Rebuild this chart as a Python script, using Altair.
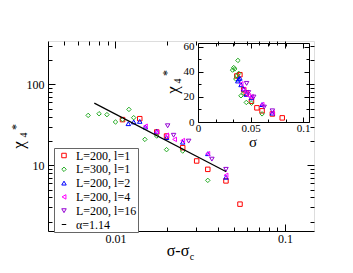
import altair as alt
import pandas as pd

# ---------------- data ----------------
series_names = ["L=200, l=1", "L=300, l=1", "L=200, l=2", "L=200, l=4", "L=200, l=16", "α=1.14"]
series_colors = ["#ff0000", "#22aa22", "#0000ff", "#ff00ff", "#9400d3", "#000000"]
series_shapes = ["square", "diamond", "triangle-up", "triangle-left", "triangle-down", "stroke"]
series_sizes = [20, 20, 20, 20, 20, 110]

# main panel: sigma - sigma_c  vs  chi_4*
red_x = [0.0110, 0.0139, 0.0175, 0.0200, 0.0249, 0.0301, 0.0350, 0.0448, 0.0542]
red_y = [36.7, 37.7, 25.8, 23.0, 16.5, 11.3, 8.9, 6.4, 3.3]
green_x = [0.0069, 0.0080, 0.0089, 0.0100, 0.0110, 0.0120, 0.0128, 0.0149, 0.0175, 0.0200, 0.0249, 0.0350]
green_y = [41.4, 43.4, 42.3, 34.3, 36.7, 49.1, 38.8, 20.9, 23.0, 15.6, 15.0, 6.5]
blue_x = [0.0119, 0.0128, 0.0139, 0.0150, 0.0175, 0.0200, 0.0249, 0.0350, 0.0448]
blue_y = [32.7, 34.3, 34.9, 29.7, 26.3, 22.0, 19.3, 13.9, 7.1]
magenta_x = [0.0150, 0.0175, 0.0200, 0.0223, 0.0249, 0.0350, 0.0448]
magenta_y = [30.4, 25.8, 23.5, 20.9, 20.2, 13.9, 7.5]
violet_x = [0.0203, 0.0220, 0.0270, 0.0370, 0.0448]
violet_y = [30.8, 23.5, 19.9, 11.9, 8.9]

fit_x = [0.0075, 0.045]
fit_y = [58.7, 8.3]

# inset: sigma vs chi_4*
red_s = [0.0370, 0.0399, 0.0435, 0.0460, 0.0509, 0.0561, 0.0610, 0.0708, 0.0802]
green_s = [0.0329, 0.0340, 0.0349, 0.0360, 0.0370, 0.0380, 0.0388, 0.0409, 0.0435, 0.0460, 0.0509, 0.0610]
blue_s = [0.0379, 0.0388, 0.0399, 0.0410, 0.0435, 0.0460, 0.0509, 0.0610, 0.0708]
magenta_s = [0.0410, 0.0435, 0.0460, 0.0483, 0.0509, 0.0610, 0.0708]
violet_s = [0.0463, 0.0480, 0.0530, 0.0630, 0.0708]

# tick values
main_x_major = [0.01, 0.1]
main_x_minor = [0.005, 0.006, 0.007, 0.008, 0.009, 0.02, 0.03, 0.04, 0.05, 0.06, 0.07, 0.08, 0.09]
main_y_major = [10, 100]
main_y_minor = [2, 3, 4, 5, 6, 7, 8, 9, 20, 30, 40, 50, 60, 70, 80, 90, 200, 300]
inset_x_major = [0, 0.05, 0.1]
inset_x_minor = [0.016667, 0.033333, 0.066667, 0.083333]
inset_y_major = [0, 20, 40, 60]
inset_y_minor = [10, 30, 50]

FONT = "Liberation Serif"
W, H = 266, 190

main_sets = [(red_x, red_y), (green_x, green_y), (blue_x, blue_y), (magenta_x, magenta_y), (violet_x, violet_y)]
inset_sets = [(red_s, red_y), (green_s, green_y), (blue_s, blue_y), (magenta_s, magenta_y), (violet_s, violet_y)]

color_scale = alt.Scale(domain=series_names, range=series_colors)
shape_scale = alt.Scale(domain=series_names, range=series_shapes)
size_scale = alt.Scale(domain=series_names, range=series_sizes)

legend = alt.Legend(
    orient="none", legendX=6, legendY=107, title=None,
    padding=1.5, strokeColor="#666666", fillColor="white",
    labelFont=FONT, labelFontSize=12, labelColor="black", labelOffset=6,
    rowPadding=1.8, symbolOffset=2.5, symbolStrokeWidth=1, labelLimit=0,
)

main_xs = alt.Scale(type="log", domain=[0.004, 0.148], nice=False)
main_ys = alt.Scale(type="log", domain=[1.535, 345], nice=False)
ins_xs = alt.Scale(domain=[0, 0.1057], range=[150, 261], nice=False, zero=False)
ins_ys = alt.Scale(domain=[0, 63], range=[81, 2], nice=False, zero=False)


def cond(major, big, small):
    test = " || ".join("datum.value == %s" % repr(v) for v in major)
    return {"condition": {"test": test, "value": big}, "value": small}


def label_axis(orient, values, offset, size, pad):
    return alt.Axis(orient=orient, values=values, labelExpr="'' + datum.value", ticks=False, domain=True,
                    domainColor="black", domainWidth=1, grid=False, title=None,
                    labelFont=FONT, labelFontSize=size, labelColor="black",
                    labelPadding=pad, offset=offset,
                    labelFlush=False, labelOverlap=False)


def tick_axis(orient, major, minor, offset, big, small, domain=False):
    return alt.Axis(orient=orient, values=sorted(major + minor), labels=False, ticks=True,
                    tickSize=cond(major, big, small), tickColor="black", tickWidth=1,
                    domain=domain, domainColor="black", domainWidth=1, grid=False,
                    title=None, offset=offset)


main_axes = [
    (label_axis("bottom", main_x_major, 0, 12, 2), label_axis("left", main_y_major, 0, 12, 4)),
    (tick_axis("top", main_x_major, main_x_minor, -H, 7, 4),
     tick_axis("right", main_y_major, main_y_minor, -W, 7, 4)),
    (tick_axis("bottom", main_x_major, main_x_minor, -H, 7, 4),
     tick_axis("left", main_y_major, main_y_minor, -W, 7, 4)),
    (None, None), (None, None),
]
inset_axes = [
    (label_axis("bottom", inset_x_major, 81 - H, 11, 0), label_axis("left", inset_y_major, -150, 11, 4)),
    (tick_axis("top", inset_x_major, inset_x_minor, -81, 5, 3),
     tick_axis("right", inset_y_major, inset_y_minor, 150 - W, 5, 3)),
    (tick_axis("bottom", inset_x_major, inset_x_minor, 2 - H, 5, 3, domain=True),
     tick_axis("left", inset_y_major, inset_y_minor, -261, 5, 3, domain=True)),
    (None, None), (None, None),
]


def points(xs, ys, name, xscale, yscale, xaxis, yaxis, with_legend):
    df = pd.DataFrame({"x": xs, "y": ys, "series": name})
    return alt.Chart(df).mark_point(filled=False, strokeWidth=1, opacity=1).encode(
        x=alt.X("x:Q", scale=xscale, axis=xaxis),
        y=alt.Y("y:Q", scale=yscale, axis=yaxis),
        color=alt.Color("series:N", scale=color_scale, legend=legend if with_legend else alt.Undefined),
        shape=alt.Shape("series:N", scale=shape_scale, legend=legend if with_legend else alt.Undefined),
        size=alt.Size("series:N", scale=size_scale, legend=legend if with_legend else alt.Undefined),
    )


main_layers = []
for i, ((xs, ys), (ax, ay)) in enumerate(zip(main_sets, main_axes)):
    main_layers.append(points(xs, ys, series_names[i], main_xs, main_ys, ax, ay, i == 0))
fit_df = pd.DataFrame({"x": fit_x, "y": fit_y, "series": series_names[5]})
main_layers.append(alt.Chart(fit_df).mark_line(strokeWidth=1.2).encode(
    x=alt.X("x:Q", scale=main_xs, axis=None),
    y=alt.Y("y:Q", scale=main_ys, axis=None),
    color=alt.Color("series:N", scale=color_scale),
))
main = alt.layer(*main_layers).resolve_axis(x="independent", y="independent")

inset_layers = []
for i, ((xs, ys), (ax, ay)) in enumerate(zip(inset_sets, inset_axes)):
    inset_layers.append(points(xs, ys, series_names[i], ins_xs, ins_ys, ax, ay, False))
inset = alt.layer(*inset_layers).resolve_axis(x="independent", y="independent")

dummy = pd.DataFrame({"k": [0]})


def txt(t, x, y, size, angle=0, baseline="middle"):
    kw = dict(text=t, font=FONT, fontSize=size, color="black", align="center", baseline=baseline)
    if angle:
        kw["angle"] = angle
    return alt.Chart(dummy).mark_text(**kw).encode(x=alt.value(x), y=alt.value(y))


titles = [
    txt("χ", -29, 104, 17, 270),
    txt("4", -24, 94, 10, 270),
    txt("*", -32, 86, 12, 270),
    txt("χ", 125, 49, 17, 270),
    txt("4", 130, 40, 10, 270),
    txt("*", 119, 32, 12, 270),
    txt("σ-σ", 130, 215, 16, 0, "alphabetic"),
    txt("c", 144, 219, 10, 0, "alphabetic"),
    txt("σ", 205, 106, 15, 0, "alphabetic"),
]

chart = alt.layer(main, inset, *titles).resolve_scale(
    x="independent", y="independent"
).properties(
    width=W, height=H,
    autosize=alt.AutoSizeParams(type="none"),
    padding={"left": 40, "top": 33, "right": 31, "bottom": 33},
).configure_view(stroke="black", strokeWidth=1).configure(background="white")

chart.save("out.html", embed_options={"renderer": "svg", "actions": False})
